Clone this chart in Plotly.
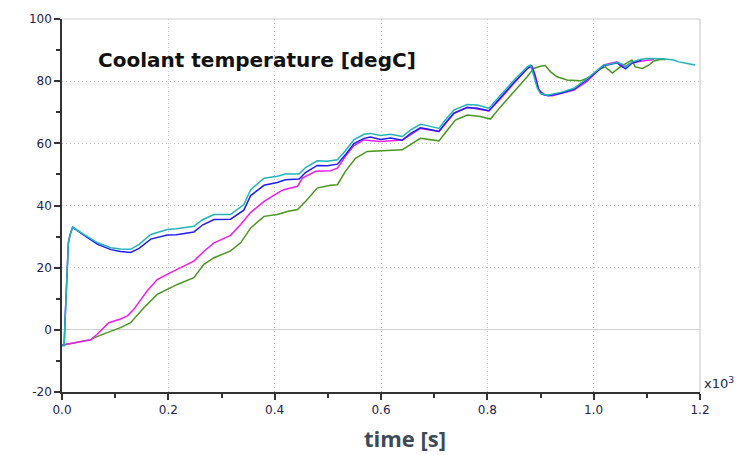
import plotly.graph_objects as go

# time axis in units of 1e3 s
cyan_t = [0.0, 0.004, 0.006, 0.012, 0.015, 0.02, 0.041, 0.067, 0.092, 0.110, 0.129, 0.145, 0.167, 0.198, 0.215, 0.248, 0.265, 0.286, 0.317, 0.342, 0.355, 0.38, 0.405, 0.42, 0.446, 0.458, 0.48, 0.499, 0.518, 0.533, 0.549, 0.568, 0.58, 0.599, 0.618, 0.64, 0.656, 0.674, 0.687, 0.709, 0.721, 0.737, 0.762, 0.781, 0.803, 0.825, 0.85, 0.875, 0.881, 0.887, 0.894, 0.90, 0.913, 0.938, 0.963, 0.988, 1.003, 1.019, 1.028, 1.044, 1.054, 1.06, 1.072, 1.088, 1.10, 1.129, 1.15, 1.16, 1.176, 1.191]
cyan_v = [-5.0, -5.0, 4.0, 28.0, 30.5, 33.0, 30.7, 28.0, 26.4, 26.0, 25.9, 27.5, 30.7, 32.3, 32.5, 33.3, 35.5, 37.1, 37.1, 40.3, 45.1, 48.8, 49.4, 50.1, 50.1, 52.2, 54.4, 54.2, 54.7, 57.6, 61.1, 62.9, 63.2, 62.5, 62.9, 62.2, 64.3, 66.1, 65.7, 64.8, 67.5, 70.7, 72.5, 72.3, 71.3, 75.5, 80.3, 84.6, 85.2, 82.0, 77.7, 76.0, 75.5, 76.4, 77.7, 80.9, 83.0, 85.2, 85.4, 86.0, 85.5, 84.5, 86.2, 87.0, 87.3, 87.2, 86.8, 86.2, 85.7, 85.2]

blue_t = [0.0, 0.004, 0.006, 0.012, 0.015, 0.02, 0.041, 0.067, 0.092, 0.110, 0.129, 0.145, 0.167, 0.198, 0.215, 0.248, 0.265, 0.286, 0.317, 0.342, 0.355, 0.38, 0.405, 0.42, 0.446, 0.458, 0.48, 0.499, 0.518, 0.533, 0.549, 0.568, 0.58, 0.599, 0.618, 0.64, 0.656, 0.674, 0.687, 0.709, 0.721, 0.737, 0.762, 0.781, 0.803, 0.825, 0.85, 0.875, 0.883, 0.889, 0.896, 0.903, 0.915, 0.938, 0.963, 0.988, 1.003, 1.019, 1.028, 1.044, 1.054, 1.06, 1.072, 1.09]
blue_v = [-5.0, -5.0, 4.0, 28.0, 30.5, 33.0, 30.5, 27.5, 25.8, 25.2, 24.9, 26.2, 29.2, 30.5, 30.6, 31.5, 33.8, 35.5, 35.6, 38.5, 43.2, 46.5, 47.4, 48.3, 48.5, 50.6, 52.9, 52.8, 53.3, 56.3, 59.9, 61.6, 62.0, 61.2, 61.7, 61.0, 63.2, 65.0, 64.6, 63.8, 66.5, 69.7, 71.5, 71.3, 70.5, 74.8, 79.6, 84.0, 84.9, 82.0, 77.5, 75.8, 75.3, 76.1, 77.4, 80.6, 82.8, 85.0, 85.3, 85.9, 84.6, 84.0, 85.8, 86.8]

mag_t = [0.0, 0.004, 0.054, 0.066, 0.088, 0.110, 0.123, 0.135, 0.16, 0.179, 0.204, 0.229, 0.248, 0.267, 0.286, 0.317, 0.336, 0.355, 0.38, 0.405, 0.417, 0.443, 0.452, 0.477, 0.505, 0.518, 0.533, 0.549, 0.568, 0.599, 0.64, 0.674, 0.709, 0.737, 0.762, 0.803, 0.825, 0.85, 0.875, 0.884, 0.89, 0.897, 0.909, 0.922, 0.963, 0.988, 1.019, 1.044, 1.057, 1.069, 1.088, 1.113]
mag_v = [-5.0, -4.8, -3.2, -1.4, 2.3, 3.5, 4.5, 6.6, 12.5, 16.2, 18.4, 20.5, 22.1, 25.3, 28.0, 30.4, 33.9, 37.8, 41.3, 44.0, 45.1, 46.2, 48.8, 51.0, 51.2, 52.0, 55.8, 59.3, 61.1, 60.6, 61.1, 64.8, 63.8, 69.6, 71.6, 70.4, 74.4, 79.3, 84.1, 84.8, 82.0, 77.1, 75.5, 75.3, 77.1, 80.0, 85.2, 86.2, 84.6, 85.7, 86.4, 87.0]

green_t = [0.0, 0.004, 0.054, 0.060, 0.085, 0.110, 0.129, 0.154, 0.179, 0.198, 0.217, 0.248, 0.267, 0.286, 0.317, 0.336, 0.355, 0.38, 0.405, 0.424, 0.443, 0.458, 0.48, 0.505, 0.518, 0.533, 0.552, 0.574, 0.599, 0.64, 0.674, 0.709, 0.725, 0.74, 0.762, 0.787, 0.806, 0.825, 0.85, 0.875, 0.887, 0.90, 0.909, 0.919, 0.931, 0.95, 0.975, 0.994, 1.013, 1.022, 1.035, 1.05, 1.066, 1.072, 1.078, 1.092, 1.104, 1.113, 1.125, 1.135]
green_v = [-5.0, -4.8, -3.2, -2.6, -0.9, 0.7, 2.3, 7.1, 11.4, 13.0, 14.6, 16.8, 21.1, 23.2, 25.4, 28.0, 32.8, 36.5, 37.1, 38.1, 38.7, 41.3, 45.6, 46.5, 46.7, 51.0, 55.2, 57.4, 57.6, 57.9, 61.6, 60.8, 64.3, 67.5, 69.1, 68.6, 67.8, 71.8, 76.6, 81.4, 84.1, 84.8, 85.0, 83.0, 81.4, 80.4, 80.1, 81.4, 84.0, 84.6, 82.6, 84.6, 86.2, 86.8, 84.6, 84.1, 85.2, 86.5, 87.0, 87.0]

x_ticks = [0.0, 0.2, 0.4, 0.6, 0.8, 1.0, 1.2]
x_labels = ["0.0", "0.2", "0.4", "0.6", "0.8", "1.0", "1.2"]
y_ticks = [-20, 0, 20, 40, 60, 80, 100]
y_labels = ["-20", "0", "20", "40", "60", "80", "100"]

fig = go.Figure()
series = [
    (green_t, green_v, "#4a961e"),
    (mag_t, mag_v, "#f01cf0"),
    (blue_t, blue_v, "#1e1ef0"),
    (cyan_t, cyan_v, "#22b4b8"),
]
for t, v, c in series:
    fig.add_trace(go.Scatter(x=t, y=v, mode="lines", line=dict(color=c, width=1.5),
                             showlegend=False, hoverinfo="skip"))

tick_font = dict(family="DejaVu Sans", size=12, color="#23234f")
grid = dict(showgrid=True, gridcolor="#c4c4c4", griddash="1px,3px", gridwidth=1)
fig.update_layout(
    width=740, height=455,
    margin=dict(l=62, r=40, t=17, b=63),
    paper_bgcolor="white", plot_bgcolor="white",
    xaxis=dict(range=[0, 1.2], tickvals=x_ticks, ticktext=x_labels, ticks="outside",
               ticklen=6, tickwidth=1.5, tickcolor="#333333", showline=True,
               linecolor="#333333", linewidth=1.5, tickfont=tick_font,
               zeroline=False, **grid,
               minor=dict(dtick=0.1, ticks="outside", ticklen=4, tickcolor="#333333", showgrid=False)),
    yaxis=dict(range=[-20, 100], tickvals=y_ticks, ticktext=y_labels, ticks="outside",
               ticklen=6, tickwidth=1.5, tickcolor="#333333", showline=True,
               linecolor="#333333", linewidth=1.5, tickfont=tick_font,
               zeroline=True, zerolinecolor="#d0d0d0", zerolinewidth=1, **grid,
               minor=dict(dtick=10, ticks="outside", ticklen=4, tickcolor="#333333", showgrid=False)),
)
# top and right frame lines
fig.add_shape(type="line", xref="paper", yref="paper", x0=0, x1=1, y0=1, y1=1,
              line=dict(color="#cfcfcf", width=1.2))
fig.add_shape(type="line", xref="paper", yref="paper", x0=1, x1=1, y0=0, y1=1,
              line=dict(color="#cfcfcf", width=1.2))

fig.add_annotation(text="<b>Coolant temperature [degC]</b>", xref="paper", yref="paper",
                   x=(96 - 62) / 638, y=(392 - 58) / 375, xanchor="left", yanchor="middle",
                   showarrow=False, font=dict(family="DejaVu Sans", size=20, color="#111111"))
fig.add_annotation(text="<b>time [s]</b>", xref="paper", yref="paper",
                   x=(405 - 62) / 638, y=-(438 - 392) / 375, xanchor="center", yanchor="middle",
                   showarrow=False, font=dict(family="Open Sans", size=22, color="#3d4a56"))
fig.add_annotation(text="x10<sup>3</sup>", xref="paper", yref="paper",
                   x=1.003, y=-(383 - 392) / 375, xanchor="left", yanchor="middle",
                   showarrow=False, font=dict(family="DejaVu Sans", size=13, color="#23234f"))

fig.write_html("out.html")
